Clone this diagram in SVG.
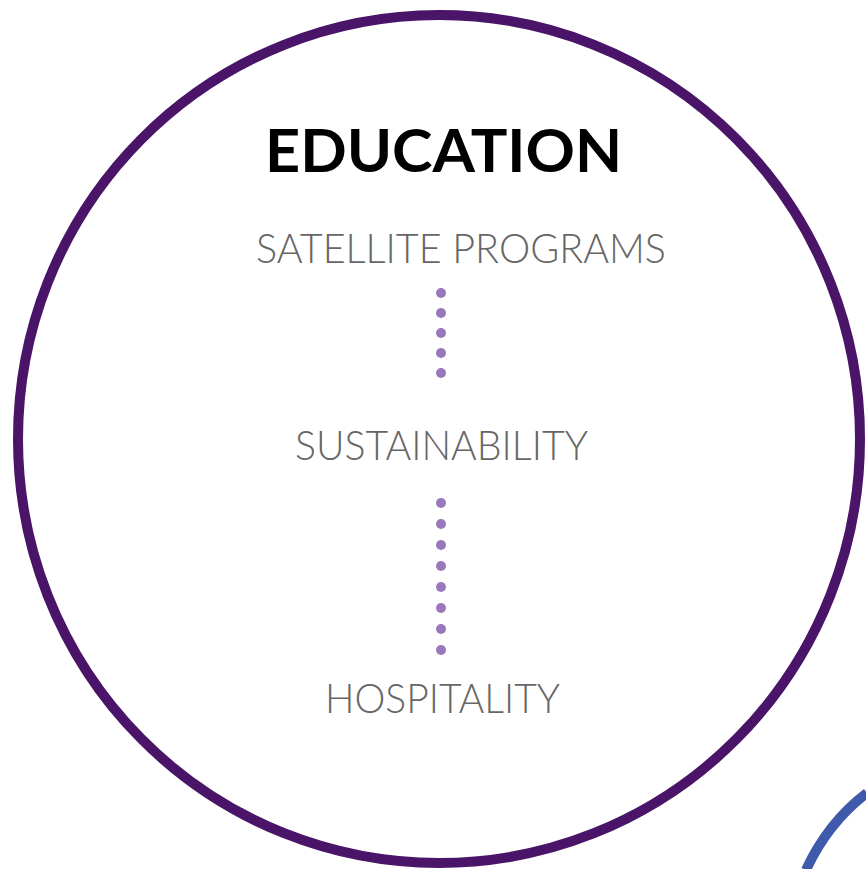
<svg xmlns="http://www.w3.org/2000/svg" width="866" height="869" viewBox="0 0 866 869">
<style>
.title{font-family:"Lato","Liberation Sans",sans-serif;font-weight:bold;font-size:60px;fill:#000}
.item{font-family:"Lato","Liberation Sans",sans-serif;font-weight:300;font-size:41px;fill:#666666}
.dot{fill:#9b77bb}
</style>
<rect width="866" height="869" fill="#ffffff"/>
<path d="M 806 870 Q 828 822.5 867 793" fill="none" stroke="#3f5aab" stroke-width="10"/>
<g id="circle">
<ellipse cx="439" cy="439" rx="421" ry="424" fill="none" stroke="#4a1468" stroke-width="10"/>
</g>
<g id="education"><text class="title" x="265" y="172" textLength="357" lengthAdjust="spacingAndGlyphs">EDUCATION</text></g>
<g id="satellite"><text class="item" x="256" y="263" textLength="410" lengthAdjust="spacingAndGlyphs">SATELLITE PROGRAMS</text></g>
<g id="sustainability"><text class="item" x="295" y="460" textLength="293" lengthAdjust="spacingAndGlyphs">SUSTAINABILITY</text></g>
<g id="hospitality"><text class="item" x="325" y="713" textLength="235" lengthAdjust="spacingAndGlyphs">HOSPITALITY</text></g>
<g id="connectors">
<circle class="dot" cx="441" cy="293" r="5"/>
<circle class="dot" cx="441" cy="313" r="5"/>
<circle class="dot" cx="441" cy="333" r="5"/>
<circle class="dot" cx="441" cy="353" r="5"/>
<circle class="dot" cx="441" cy="373" r="5"/>
<circle class="dot" cx="441" cy="503" r="5"/>
<circle class="dot" cx="441" cy="524" r="5"/>
<circle class="dot" cx="441" cy="545" r="5"/>
<circle class="dot" cx="441" cy="566" r="5"/>
<circle class="dot" cx="441" cy="587" r="5"/>
<circle class="dot" cx="441" cy="608" r="5"/>
<circle class="dot" cx="441" cy="629" r="5"/>
<circle class="dot" cx="441" cy="650" r="5"/>
</g>
</svg>
